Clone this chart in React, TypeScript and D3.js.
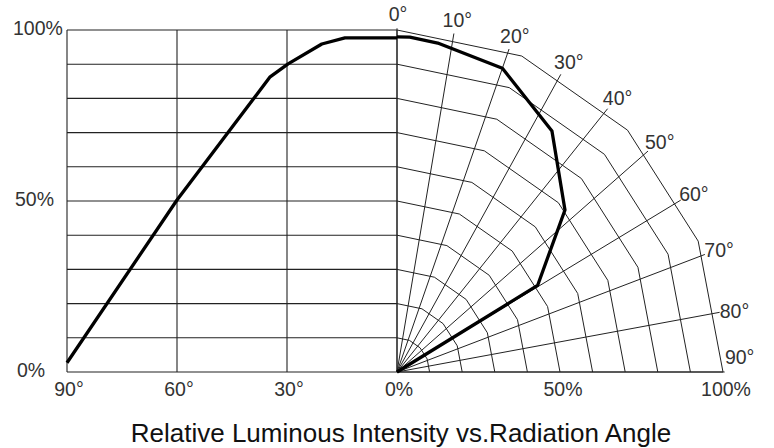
import React from "react";
import * as d3 from "d3";

// Rectangular (left) curve: angle (deg) vs relative intensity (%)
const rectAngles = [90, 60, 34.6, 29.7, 20.5, 14.2, 0];
const rectValues = [2.7, 50.3, 86.3, 90.1, 95.9, 97.7, 97.7];

// Polar (right) curve: angle (deg) vs relative intensity (%)
const polarAngles = [0, 2.3, 7.4, 20, 34, 47.4, 59.6, 90];
const polarValues = [98, 98, 97, 94.5, 85, 70, 50, 0];

const rectTickAngles = [90, 60, 30, 0];
const rectTickLabels = ["90°", "60°", "30°", "0%"];
const valueTicks = [0, 50, 100];
const valueTickLabels = ["0%", "50%", "100%"];
const gridValues = [0, 10, 20, 30, 40, 50, 60, 70, 80, 90, 100];
const radialAngles = [0, 10, 20, 30, 40, 50, 60, 70, 80, 90];
const radialLabels = ["0°", "10°", "20°", "30°", "40°", "50°", "60°", "70°", "80°", "90°"];
const ringVertexAngles = [0, 22.5, 45, 67.5, 90];
const polarTickValues = [50, 100];
const polarTickLabels = ["50%", "100%"];
const title = "Relative Luminous Intensity vs.Radiation Angle";

export default function App() {
  const W = 774, H = 448;
  const left = 67, cx = 397, cy = 372, top = 30;
  const x = d3.scaleLinear().domain([90, 0]).range([left, cx]);
  const y = d3.scaleLinear().domain([0, 100]).range([cy, top]);
  const rX = d3.scaleLinear().domain([0, 100]).range([0, 326]);
  const rY = d3.scaleLinear().domain([0, 100]).range([0, cy - top]);
  const rad = (a: number) => (a * Math.PI) / 180;
  const pt = (a: number, v: number): [number, number] => [
    cx + rX(v) * Math.sin(rad(a)),
    cy - rY(v) * Math.cos(rad(a)),
  ];

  const line = d3.line<[number, number]>().x((d) => d[0]).y((d) => d[1]);
  const rectPts: [number, number][] = rectAngles.map((a, i) => [x(a), y(rectValues[i])]);
  const polarPts: [number, number][] = polarAngles.map((a, i) => pt(a, polarValues[i]));

  const gridColor = "#222";
  const font = "'Liberation Sans', Arial, sans-serif";
  const textColor = "#333";

  return (
    <svg width={W} height={H} style={{ position: "absolute", left: 0, top: 0, background: "#fff" }}>
      <rect x={0} y={0} width={W} height={H} fill="#fff" />
      {/* left rectangular grid */}
      <g stroke={gridColor} strokeWidth={1.1} fill="none">
        {gridValues.map((v) => (
          <line key={"h" + v} x1={x(90)} x2={x(0)} y1={y(v)} y2={y(v)} />
        ))}
        {rectTickAngles.map((a) => (
          <line key={"v" + a} x1={x(a)} x2={x(a)} y1={y(0)} y2={y(100)} />
        ))}
      </g>
      {/* polar grid rings */}
      <g stroke={gridColor} strokeWidth={1} fill="none">
        {gridValues.slice(1).map((v) => (
          <path key={"r" + v} d={line(ringVertexAngles.map((a) => pt(a, v))) || ""} />
        ))}
        {radialAngles.map((a) => {
          const [x2, y2] = pt(a, 100.5);
          return <line key={"a" + a} x1={cx} y1={cy} x2={x2} y2={y2} />;
        })}
        <line x1={cx} x2={pt(90, 100)[0]} y1={cy} y2={cy} strokeWidth={1.1} />
      </g>
      {/* curves */}
      <path d={line(rectPts) || ""} stroke="#000" strokeWidth={3.3} fill="none" strokeLinejoin="round" />
      <path d={line(polarPts) || ""} stroke="#000" strokeWidth={3.3} fill="none" strokeLinejoin="round" />
      {/* labels */}
      <g fontFamily={font} fontSize={19.5} fill={textColor}>
        {valueTicks.map((v, i) => (
          <text key={"yl" + v} x={13 + (2 - i) * 2} y={y(v) - 2} dy="0.35em" textAnchor="start">
            {valueTickLabels[i]}
          </text>
        ))}
        {rectTickAngles.map((a, i) => (
          <text key={"xl" + a} x={x(a) + 2} y={cy + 24} textAnchor="middle">
            {rectTickLabels[i]}
          </text>
        ))}
        {polarTickValues.map((v, i) => (
          <text key={"pl" + v} x={pt(90, v)[0] + 3} y={cy + 24} textAnchor="middle">
            {polarTickLabels[i]}
          </text>
        ))}
        {radialAngles.map((a, i) => {
          const [lx, ly] = pt(a, 104.8);
          return (
            <text key={"al" + a} x={lx + 1} y={Math.min(ly + 1, cy - 15)} dy="0.35em" textAnchor="middle">
              {radialLabels[i]}
            </text>
          );
        })}
      </g>
      <text x={401} y={442} textAnchor="middle" fontFamily={font} fontSize={26} fill="#111">
        {title}
      </text>
    </svg>
  );
}
